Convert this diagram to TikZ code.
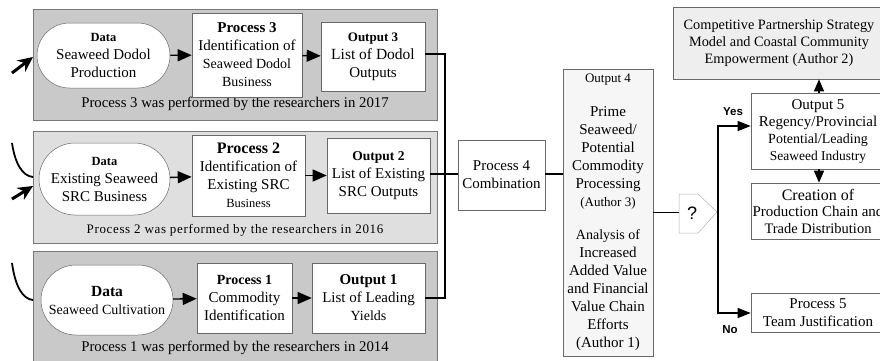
\documentclass[tikz,border=0pt]{standalone}
\usepackage{fontspec}
\setmainfont{Liberation Serif}
\newfontfamily\yesnofont{Liberation Sans}
\newfontfamily\spacedfont{Liberation Serif}[LetterSpace=5]
\usetikzlibrary{shapes.misc,arrows.meta,calc}
\newcommand\fsz[2][18]{\fontsize{#2}{#1}\selectfont}
\definecolor{paneldark}{RGB}{201,201,201}
\definecolor{panellight}{RGB}{223,223,223}
\definecolor{edgegray}{RGB}{120,120,120}
\definecolor{boxgray}{RGB}{105,105,105}
\definecolor{outfill}{RGB}{246,246,246}
\definecolor{compfill}{RGB}{238,238,238}
\begin{document}
\begin{tikzpicture}[x=1pt,y=-1pt,
  panel/.style={draw=edgegray,line width=0.8pt,inner sep=0pt},
  box/.style={draw=boxgray,fill=white,line width=0.6pt,inner sep=0pt,align=center,font={\fsz{15}}},
  oval/.style={rounded rectangle,draw=boxgray,fill=white,line width=0.5pt,inner sep=0pt,align=center,font={\fsz{15}}},
  plabel/.style={inner sep=0pt,font={\fsz{14.8}}},
  flow/.style={line width=1.4pt,-{Triangle[length=14pt,width=12pt]}},
  link/.style={line width=1.2pt},
  frag/.style={line width=1.8pt},
  yn/.style={inner sep=0pt,font={\yesnofont\bfseries\fsz{11.5}}},
  tip/.style={-{Triangle[length=12pt,width=10pt]}}
]
\useasboundingbox (0,0) rectangle (880,360);

% panels
\node[panel,fill=paneldark,minimum width=404pt,minimum height=111pt] (panel3) at (235,64.5) {};
\node[panel,fill=panellight,minimum width=404pt,minimum height=112pt] (panel2) at (235,187) {};
\node[panel,fill=paneldark,minimum width=404pt,minimum height=112pt] (panel1) at (235,307) {};

\node[plabel] (lab3) at (235,104) {Process 3 was performed by the researchers in 2017};
\node[plabel,font={\spacedfont\fsz{13}}] (lab2) at (235,230) {Process 2 was performed by the researchers in 2016};
\node[plabel] (lab1) at (235,348) {Process 1 was performed by the researchers in 2014};

% row 3
\node[oval,minimum width=133pt,minimum height=65pt] (d3) at (103.5,55.5)
  {{\fsz{12.5}\bfseries Data}\\Seaweed Dodol\\Production};
\node[box,minimum width=110pt,minimum height=84pt] (p3) at (247,55)
  {{\bfseries Process 3}\\Identification of\\{\fsz{14}Seaweed Dodol}\\{\fsz{14}Business}};
\node[box,minimum width=104pt,minimum height=69pt] (o3) at (373,56.5)
  {{\fsz{13}\bfseries Output 3}\\{\fsz{15.5}List of Dodol}\\Outputs};

% row 2
\node[oval,minimum width=131pt,minimum height=72pt] (d2) at (104.5,179)
  {{\fsz{12.5}\bfseries Data}\\Existing Seaweed\\SRC Business};
\node[box,minimum width=113pt,minimum height=81pt] (p2) at (248.5,175.5)
  {{\fsz{16}\bfseries Process 2}\\Identification of\\Existing SRC\\{\fsz{12.5}Business}};
\node[box,minimum width=103pt,minimum height=75pt] (o2) at (378.5,175.5)
  {{\fsz{13.5}\bfseries Output 2}\\List of Existing\\SRC Outputs};

% row 1
\node[oval,minimum width=132pt,minimum height=70pt] (d1) at (107,300)
  {{\fsz[19]{15.5}\bfseries Data}\\{\fsz{14}Seaweed Cultivation}};
\node[box,minimum width=95pt,minimum height=70pt] (p1) at (244.5,298)
  {{\fsz{14}\bfseries Process 1}\\Commodity\\Identification};
\node[box,minimum width=113pt,minimum height=70pt] (o1) at (368.5,298)
  {{\fsz{15}\bfseries Output 1}\\List of Leading\\{\fsz{14}Yields}};

\draw[flow] (d3) -- (p3);
\draw[flow] (p3) -- (o3);
\draw[flow] (d2) -- (p2);
\draw[flow] (p2) -- (o2);
\draw[flow] (d1) -- (p1);
\draw[flow] (p1) -- (o1);

% bus
\coordinate (bt) at (445,54);
\coordinate (bm) at (445,174);
\coordinate (bb) at (445,298);
\draw[link] (o3.east |- bt) -- (bt) -- (bb) -- (o1.east);
\draw[link] (o2.east |- bm) -- (bm);

\node[box,minimum width=87pt,minimum height=70pt] (p4) at (501.5,175) {Process 4\\Combination};
\draw[link] (bm) -- (p4.west |- bm);

\node[box,fill=outfill,minimum width=90pt,minimum height=287pt] (o4) at (608,212.5)
  {{\fsz{13}Output 4}\\[16pt]Prime\\Seaweed/\\Potential\\Commodity\\Processing\\{\fsz{13}(Author 3)}\\[15pt]
   {\fsz{14}Analysis of}\\Increased\\Added Value\\and Financial\\Value Chain\\Efforts\\(Author 1)};
\draw[link] (p4.east |- bm) -- (o4.west |- bm);

% decision
\draw[draw=gray!60,fill=white,line width=0.5pt] (679,194) -- (698,194) -- (717,212) -- (698,233) -- (679,233) -- cycle;
\node[inner sep=0pt,font={\yesnofont\fsz{18}}] (q) at (692,213) {?};
\coordinate (qin) at (679,212.5);
\draw[link] (o4.east |- qin) -- (qin);

% right column
\node[box,fill=compfill,minimum width=212pt,minimum height=72pt,font={\fsz[16.8]{14.3}}] (comp) at (779,43)
  {Competitive Partnership Strategy\\Model and Coastal Community\\Empowerment (Author 2)};
\node[box,minimum width=134pt,minimum height=76pt,font={\fsz[17]{15}}] (o5) at (818,131)
  {Output 5\\Regency/Provincial\\{\fsz{14}Potential/Leading}\\{\fsz{13.5}Seaweed Industry}};
\node[box,minimum width=134pt,minimum height=56pt,font={\fsz[16.5]{15}}] (cr) at (818,211)
  {{\fsz{16}Creation of}\\Production Chain and\\{\fsz{14.5}Trade Distribution}};
\node[box,minimum width=134pt,minimum height=39pt,font={\fsz[18.5]{15}}] (p5) at (818,312.5)
  {Process 5\\Team Justification};

\coordinate (ax) at (819,0);
\draw[link,tip] (o5.north -| ax) -- (comp.south -| ax);
\draw[link,tip] (o5.south -| ax) -- (cr.north -| ax);

\coordinate (vy) at (718,126);
\coordinate (vn) at (718,313);
\draw[link,-{Triangle[length=13pt,width=10pt]}] (vn) -- (vy) -- (vy -| o5.west);
\draw[link,-{Triangle[length=13pt,width=10pt]}] (vy) -- (vn) -- (vn -| p5.west);
\node[yn] (yes) at (733,112) {Yes};
\node[yn] (no) at (730,330) {No};

% fragments on the left
\coordinate (a3s) at (12,73);
\coordinate (a3e) at (33,57);
\draw[line width=3pt,-{Stealth[length=15pt,width=14pt]}] (a3s) -- (a3e);
\coordinate (a2s) at (12,199);
\coordinate (a2e) at (33,186);
\draw[line width=3pt,-{Stealth[length=15pt,width=14pt]}] (a2s) -- (a2e);
\coordinate (c2s) at (12,143);
\coordinate (c2e) at (33,177);
\draw[frag] (c2s) .. controls (15,163) and (22,176) .. (c2e);
\coordinate (c1s) at (12,263);
\coordinate (c1e) at (33,300);
\draw[frag] (c1s) .. controls (15,285) and (22,299) .. (c1e);
\end{tikzpicture}
\end{document}
